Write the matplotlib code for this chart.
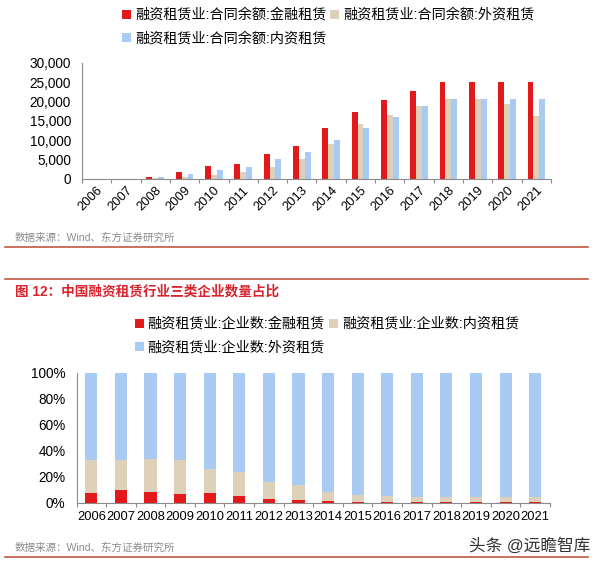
import matplotlib
matplotlib.use('Agg')
import matplotlib.pyplot as plt
from matplotlib.lines import Line2D
from matplotlib.ticker import FuncFormatter, FixedLocator

plt.rcParams['font.family'] = ['Liberation Sans', 'Noto Sans CJK SC']

years = [str(y) for y in range(2006, 2022)]

# 合同余额 (亿元)
balance_fin = [0, 0, 500, 1700, 3400, 3900, 6500, 8600, 13100, 17300, 20400, 22800, 25000, 25000, 25000, 25000]
balance_foreign = [0, 0, 300, 600, 1000, 1800, 3200, 5200, 9000, 14100, 16500, 18900, 20700, 20700, 19300, 16200]
balance_domestic = [0, 0, 400, 1200, 2200, 3200, 5300, 6900, 10000, 13100, 16100, 18900, 20700, 20700, 20700, 20700]

# 企业数占比 (%)
share_fin = [7.7, 10.0, 8.4, 7.0, 7.2, 5.2, 2.9, 1.9, 1.0, 0.8, 0.6, 0.5, 0.5, 0.5, 0.5, 0.5]
share_domestic = [24.8, 22.5, 24.9, 25.5, 18.6, 18.3, 12.9, 11.5, 7.2, 5.2, 4.4, 4.1, 4.1, 4.1, 4.1, 4.1]
share_foreign = [67.5, 67.5, 66.7, 67.5, 74.2, 76.5, 84.2, 86.6, 91.8, 94.0, 95.0, 95.4, 95.4, 95.4, 95.4, 95.4]

labels_top = ['融资租赁业:合同余额:金融租赁', '融资租赁业:合同余额:外资租赁', '融资租赁业:合同余额:内资租赁']
labels_bottom = ['融资租赁业:企业数:金融租赁', '融资租赁业:企业数:内资租赁', '融资租赁业:企业数:外资租赁']

RED = '#E3191C'
BEIGE = '#DDD1BA'
BLUE = '#A8CAF3'
AXIS = '#8C8C8C'
LINE = '#C0583F'

W, H = 600, 564
fig = plt.figure(figsize=(W / 100, H / 100), dpi=100)

x = list(range(len(years)))

# top chart: grouped bars
ax1 = fig.add_axes([82 / W, 1 - 179 / H, 469 / W, 116 / H])
bw = 0.2
b1 = ax1.bar([i - bw for i in x], balance_fin, bw, color=RED)
b2 = ax1.bar(x, balance_foreign, bw, color=BEIGE)
b3 = ax1.bar([i + bw for i in x], balance_domestic, bw, color=BLUE)
ax1.set_xlim(-0.5, len(years) - 0.5)
ax1.set_ylim(0, 30000)
ax1.set_yticks(range(0, 30001, 5000))
ax1.yaxis.set_major_formatter(FuncFormatter(lambda v, p: f'{int(v):,}'))
ax1.set_xticks(x)
ax1.set_xticklabels(years, rotation=45, ha='right', rotation_mode='anchor')

# bottom chart: 100% stacked bars
ax2 = fig.add_axes([76.5 / W, 1 - 502.7 / H, 473.5 / W, 130 / H])
sw = 0.41
s1 = ax2.bar(x, share_fin, sw, color=RED)
bottom2 = share_fin
s2 = ax2.bar(x, share_domestic, sw, bottom=bottom2, color=BEIGE)
bottom3 = [a + b for a, b in zip(share_fin, share_domestic)]
s3 = ax2.bar(x, share_foreign, sw, bottom=bottom3, color=BLUE)
ax2.set_xlim(-0.5, len(years) - 0.5)
ax2.set_ylim(0, 100)
ax2.set_yticks(range(0, 101, 20))
ax2.yaxis.set_major_formatter(FuncFormatter(lambda v, p: f'{int(v)}%'))
ax2.set_xticks(x)
ax2.set_xticklabels(years)

for ax in (ax1, ax2):
    for s in ('top', 'right'):
        ax.spines[s].set_visible(False)
    for s in ('left', 'bottom'):
        ax.spines[s].set_color(AXIS)
        ax.spines[s].set_linewidth(0.8)
    ax.xaxis.set_minor_locator(FixedLocator([i + 0.5 for i in range(-1, len(years))]))
    ax.tick_params(axis='x', which='major', length=0, labelsize=9.3, pad=6)
    ax.tick_params(axis='x', which='minor', length=3, color=AXIS, width=0.8)
    ax.tick_params(axis='y', length=0, labelsize=9.8, pad=8)

ax1.tick_params(axis='x', which='major', pad=4)

# legends
leg_kw = dict(ncol=2, loc='upper left', frameon=False, fontsize=10.2,
              handlelength=0.6, handleheight=0.6, handletextpad=0.3,
              columnspacing=0.3, labelspacing=0.65, borderpad=0, borderaxespad=0)
fig.legend([b1, b3, b2], [labels_top[0], labels_top[2], labels_top[1]],
           bbox_to_anchor=(122 / W, 1 - 8 / H), **leg_kw)
fig.legend([s1, s3, s2], [labels_bottom[0], labels_bottom[2], labels_bottom[1]],
           bbox_to_anchor=(135 / W, 1 - 317 / H), **leg_kw)

# page furniture
src = '数据来源：Wind、东方证券研究所'
fig.text(15 / W, 1 - 238 / H, src, fontsize=7.6, color='#8C8C8C', va='center')
fig.text(15 / W, 1 - 548 / H, src, fontsize=7.6, color='#8C8C8C', va='center')
fig.text(15 / W, 1 - 291 / H, '图 12：中国融资租赁行业三类企业数量占比', fontsize=9.8,
         color='#D9232D', fontweight='bold', va='center')
fig.text(590 / W, 1 - 546 / H, '头条 @远瞻智库', fontsize=12, color='#333333',
         ha='right', va='center')

for yy in (247, 279, 557):
    fig.add_artist(Line2D([5 / W, 588 / W], [1 - yy / H] * 2, color=LINE, lw=1.2))

fig.savefig('out.png', dpi=100)
